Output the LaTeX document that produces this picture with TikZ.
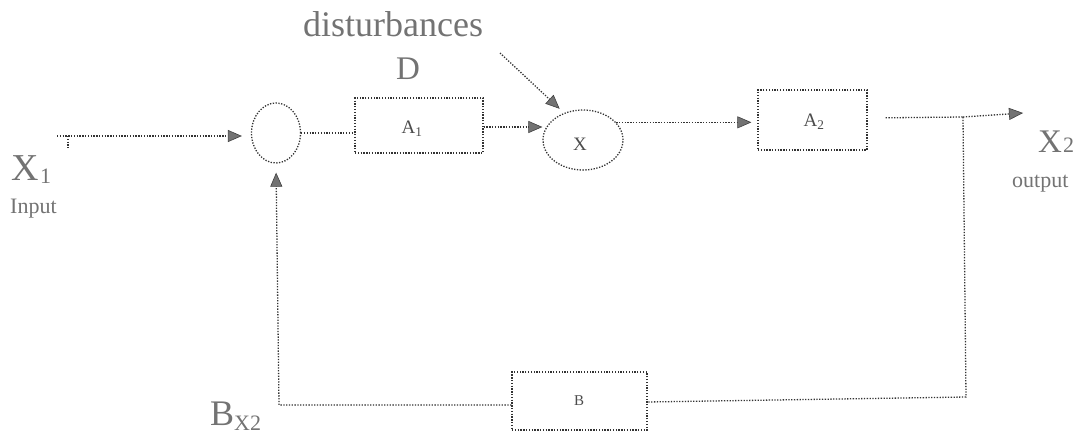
\documentclass[tikz,border=0pt]{standalone}
\usepackage{fontspec}
\setmainfont{Liberation Serif}
\usetikzlibrary{arrows.meta,shapes.geometric,calc}
\begin{document}
\begin{tikzpicture}[x=1pt,y=-1pt,
  ln/.style={draw=black!80,line width=1.3pt,dash pattern=on 1.3pt off 1.5pt},
  arr/.style={ln,-{Triangle[length=14pt,width=12pt,fill=black!55,color=black!75,line width=0.6pt]}},
  blk/.style={ln,rectangle,inner sep=0pt},
  ell/.style={ln,ellipse,inner sep=0pt},
  lbl/.style={text=black!55,inner sep=0pt},
  inlbl/.style={text=black!70,inner sep=0pt,font=\fontsize{19}{19}\selectfont}
]
\useasboundingbox (0,0) rectangle (1074,433);

% blocks
\node[ell,minimum width=49pt,minimum height=60pt] (sum) at (276,133) {};
\node[blk,minimum width=128pt,minimum height=55pt] (A1) at (419,125.5) {};
\node[ell,minimum width=80pt,minimum height=60pt] (mul) at (583,140) {};
\node[blk,minimum width=109pt,minimum height=60pt] (A2) at (812.5,120) {};
\node[blk,minimum width=135pt,minimum height=58pt] (B) at (579.5,401) {};

% labels inside blocks
\node[inlbl,anchor=base] (tA1) at (412,134) {A\textsubscript{1}};
\node[inlbl,anchor=base] (tX) at (580,150) {X};
\node[inlbl,anchor=base] (tA2) at (814,127) {A\textsubscript{2}};
\node[inlbl,anchor=base,font=\fontsize{15}{15}\selectfont] (tB) at (579,405) {B};

% coordinates
\coordinate (in0) at (57,136);
\coordinate (tk) at (68,136);
\coordinate (tkb) at (68,148);
\coordinate (ds) at (500,53);
\coordinate (j) at (963,117);
\coordinate (oute) at (1023,113);
\coordinate (br) at (966,397);
\coordinate (bl) at (279,405);

% connectors
\draw[arr,shorten >=9pt] (in0) -- (in0 -| sum.west);
\draw[ln] (tk) -- (tkb);
\draw[ln] (sum.east) -- (sum.east -| A1.west);
\draw[arr] (A1.east |- 0,127) -- (mul.west |- 0,127);
\draw[arr,shorten >=6pt] (ds) -- (mul.125);
\draw[arr,shorten >=6pt] (mul.28) -- (mul.28 -| A2.west);
\draw[ln,shorten <=18pt] (A2.east |- 0,118) -- (j);
\draw[arr] (j) -- (oute);
\draw[ln] (j) -- (br) -- (B.east |- 0,402);
\draw[arr,shorten >=9pt] (B.west |- 0,405) -- (bl) -- (sum.south);

% text labels
\node[lbl,anchor=base west,font=\fontsize{36}{36}\selectfont] (dist) at (303,37) {disturbances};
\node[lbl,anchor=base,font=\fontsize{33}{33}\selectfont] (D) at (408,80) {D};
\node[lbl,anchor=base west,font=\fontsize{38}{38}\selectfont] (X1) at (11,180) {X};
\node[lbl,anchor=base west,font=\fontsize{22}{22}\selectfont] (X1s) at (40,183) {1};
\node[lbl,anchor=base west,font=\fontsize{22}{22}\selectfont] (inp) at (10,213) {Input};
\node[lbl,anchor=base west,font=\fontsize{33}{33}\selectfont] (X2) at (1038,153) {X};
\node[lbl,anchor=base west,font=\fontsize{22}{22}\selectfont] (X2s) at (1063,153) {2};
\node[lbl,anchor=base west,font=\fontsize{22}{22}\selectfont] (outp) at (1012,187) {output};
\node[lbl,anchor=base west,font=\fontsize{36}{36}\selectfont] (BX) at (210,425) {B};
\node[lbl,anchor=base west,font=\fontsize{22}{22}\selectfont] (BXs) at (234,430) {X2};
\end{tikzpicture}
\end{document}
